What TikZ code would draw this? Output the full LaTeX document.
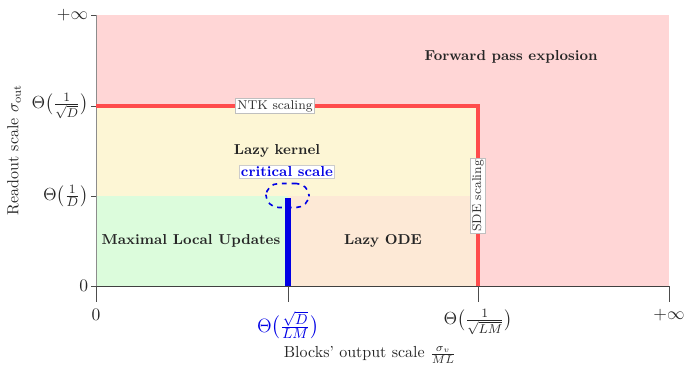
\documentclass[tikz,border=0pt]{standalone}
\usepackage{amsmath}
\begin{document}
\begin{tikzpicture}[x=0.625pt,y=-0.625pt,
  region/.style={font=\small\bfseries, text=black!85},
  tag/.style={draw=black!25, fill=white, inner sep=1pt, font=\footnotesize, text=black!80},
  redline/.style={draw=red!70, line width=2.1pt},
  tick/.style={draw=black!70, line width=0.4pt},
  ticklab/.style={font=\fontsize{11}{13}\selectfont, text=black!85}]
\useasboundingbox (0,0) rectangle (686,372);
% regions
\fill[fill={rgb,255:red,255;green,214;blue,214}] (96,15) rectangle (669,286);
\fill[fill={rgb,255:red,253;green,246;blue,213}] (96,106) rectangle (478,196);
\fill[fill={rgb,255:red,220;green,252;blue,220}] (96,196) rectangle (288,286);
\fill[fill={rgb,255:red,253;green,233;blue,214}] (288,196) rectangle (478,286);
% axes
\draw[black!45, line width=0.5pt] (96,15) -- (96,286);
\draw[black!75, line width=0.5pt] (96,286) -- (669,286);
% coordinates
\coordinate (y0) at (96,286);
\coordinate (y1) at (96,196);
\coordinate (y2) at (96,106);
\coordinate (y3) at (96,15);
\coordinate (x1) at (288,286);
\coordinate (x2) at (478,286);
\coordinate (x3) at (669,286);
\coordinate (corner) at (478,106);
\coordinate (bartop) at (288,198);
% y ticks
\foreach \c in {y0,y1,y2,y3} \draw[tick] (\c) -- ++(-5,0);
% x ticks
\foreach \c in {y0,x1,x2,x3} \draw[tick] (\c) -- ++(0,16);
% red boundary lines
\draw[redline] (y2) -- (corner) -- (x2);
% blue bar
\draw[blue!90!black, line width=3.8pt] (x1) -- (bartop);
\node[draw=blue!90!black, dashed, line width=1pt, rounded corners=8pt, minimum width=27pt, minimum height=15pt, inner sep=0pt] (crit) at (287.5,195.5) {};
% labels
\node[tag] (ntk) at (275,106) {NTK scaling};
\node[tag, rotate=90] (sde) at (478,196) {SDE scaling};
\node[region] (fpe) at (511,57) {Forward pass explosion};
\node[region] (lk) at (277,151) {Lazy kernel};
\node[draw=black!20, fill=white, inner sep=1pt, font=\small\bfseries, text=blue!90!black] (cs) at (287,172) {critical scale};
\node[region] (mlu) at (191,241) {Maximal Local Updates};
\node[region] (lode) at (383,241) {Lazy ODE};
% y tick labels
\node[ticklab, anchor=east, inner sep=1pt] (l0) at (90,286) {$0$};
\node[ticklab, anchor=east, inner sep=1pt] (l1) at (90,196) {$\Theta\bigl(\frac{1}{D}\bigr)$};
\node[ticklab, anchor=east, inner sep=1pt] (l2) at (90,106) {$\Theta\bigl(\frac{1}{\sqrt{D}}\bigr)$};
\node[ticklab, anchor=east, inner sep=1pt] (l3) at (90,15) {$+\infty$};
% x tick labels
\node[ticklab] (m0) at (96,315) {$0$};
\node[ticklab, font=\fontsize{12.5}{15}\selectfont, text=blue!90!black] (m1) at (288,325) {$\Theta\bigl(\frac{\sqrt{D}}{LM}\bigr)$};
\node[ticklab] (m2) at (478,322) {$\Theta\bigl(\frac{1}{\sqrt{LM}}\bigr)$};
\node[ticklab] (m3) at (669,315) {$+\infty$};
% axis labels
\node[font=\normalsize, text=black!85, rotate=90, inner sep=1pt] (ylab) at (14,150) {Readout scale $\sigma_{\mathrm{out}}$};
\node[font=\normalsize, text=black!85] (xlab) at (370,355) {Blocks' output scale $\frac{\sigma_v}{ML}$};
\end{tikzpicture}
\end{document}
